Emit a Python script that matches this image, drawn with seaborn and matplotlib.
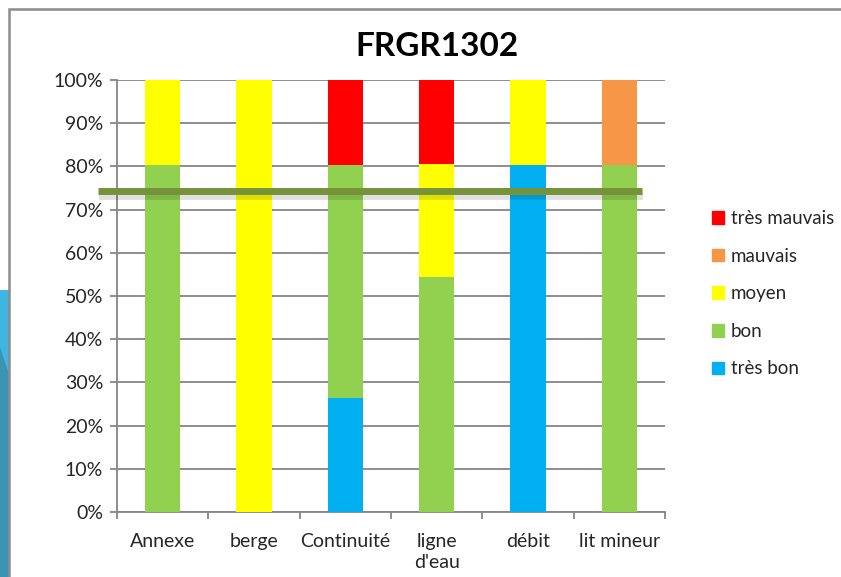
import numpy as np
import pandas as pd
import matplotlib
matplotlib.use("Agg")
import matplotlib.pyplot as plt
import matplotlib.patches as mpatches
import matplotlib.patheffects as pe
import seaborn as sns

# ---- data ----
categories = ["Annexe", "berge", "Continuité", "ligne\nd'eau", "débit", "lit mineur"]
tres_bon = [0, 0, 26.3, 0, 80.3, 0]
bon = [80.3, 0, 54.0, 54.5, 0, 80.3]
moyen = [19.7, 100, 0, 26.0, 19.7, 0]
mauvais = [0, 0, 0, 0, 0, 19.7]
tres_mauvais = [0, 0, 19.7, 19.5, 0, 0]
series_names = ["très bon", "bon", "moyen", "mauvais", "très mauvais"]
series_colors = ["#00B0F0", "#92D050", "#FFFF00", "#F79646", "#FF0000"]
threshold = 74.3
title = "FRGR1302"
yticks = [0, 10, 20, 30, 40, 50, 60, 70, 80, 90, 100]

sns.set_theme(style="white")
plt.rcParams["font.family"] = ["Lato", "DejaVu Sans"]
text_color = "#262626"
fs = 14

fig = plt.figure(figsize=(8.41, 5.77), dpi=100)
# slide decoration on left + chart border
fig.patches.append(mpatches.Rectangle((0, 0), 10 / 841, 287 / 577, transform=fig.transFigure,
                                      facecolor="#3C94B2", edgecolor="none", zorder=0))
fig.patches.append(mpatches.Polygon([(0, 287 / 577), (10 / 841, 287 / 577), (10 / 841, 200 / 577), (0, 230 / 577)],
                                    closed=True, transform=fig.transFigure,
                                    facecolor="#3FB5E2", edgecolor="none", zorder=0))
fig.patches.append(mpatches.Rectangle((8.5 / 841, -0.02), 1.2, (577 - 8.5) / 577 + 0.02, transform=fig.transFigure,
                                      facecolor="none", edgecolor="#8C8C8C", linewidth=1.8, zorder=1))

ax = fig.add_axes([117 / 841, 1 - 512 / 577, 548 / 841, 432 / 577])

df = pd.DataFrame({"cat": categories, "très bon": tres_bon, "bon": bon, "moyen": moyen,
                   "mauvais": mauvais, "très mauvais": tres_mauvais})
cum = df[series_names].cumsum(axis=1)
for name, color in reversed(list(zip(series_names, series_colors))):
    sns.barplot(x=df["cat"], y=cum[name], color=color, width=0.39, linewidth=0,
                saturation=1, ax=ax, zorder=3, order=categories)

ax.set_xlim(-0.5, len(categories) - 0.5)
ax.set_ylim(0, 100)
ax.set_yticks(yticks)
ax.set_yticklabels([f"{v}%" for v in yticks])
ax.set_xlabel("")
ax.set_ylabel("")
ax.yaxis.grid(True, color="#868686", linewidth=1.3, zorder=0)
ax.set_axisbelow(True)
for s in ["top", "right"]:
    ax.spines[s].set_visible(False)
for s in ["left", "bottom"]:
    ax.spines[s].set_color("#868686")
    ax.spines[s].set_linewidth(1.3)
ax.tick_params(axis="y", which="major", left=True, length=5, width=1.3, color="#868686",
               labelsize=fs, labelcolor=text_color, pad=5)
ax.tick_params(axis="x", which="major", bottom=False, labelsize=fs, labelcolor=text_color, pad=9)
for lbl in ax.get_xticklabels():
    lbl.set_linespacing(1.3)
ax.set_xticks(np.arange(-0.5, len(categories) + 0.5, 1), minor=True)
ax.tick_params(axis="x", which="minor", bottom=True, length=5, width=1.3, color="#868686")

# threshold line
ax.plot([-0.708, 5.248], [threshold, threshold], color="#76933C", linewidth=5, clip_on=False,
        solid_capstyle="butt", zorder=5,
        path_effects=[pe.SimpleLineShadow(offset=(1, -3), shadow_color="#000000", alpha=0.12,
                                          linewidth=7),
                      pe.Normal()])

fig.text(437 / 841, 1 - 46 / 577, title, ha="center", va="center", fontsize=24,
         fontweight="bold", color="#000000")

handles = [mpatches.Patch(color=c, label=n) for n, c in zip(series_names, series_colors)][::-1]
fig.legend(handles=handles, loc="upper left", bbox_to_anchor=(697 / 841, 1 - 195 / 577),
           frameon=False, fontsize=13.5, handlelength=0.65, handleheight=0.65, handletextpad=0.35,
           labelspacing=1.1, labelcolor=text_color, borderpad=0.3)

fig.savefig("out.png", dpi=100)
